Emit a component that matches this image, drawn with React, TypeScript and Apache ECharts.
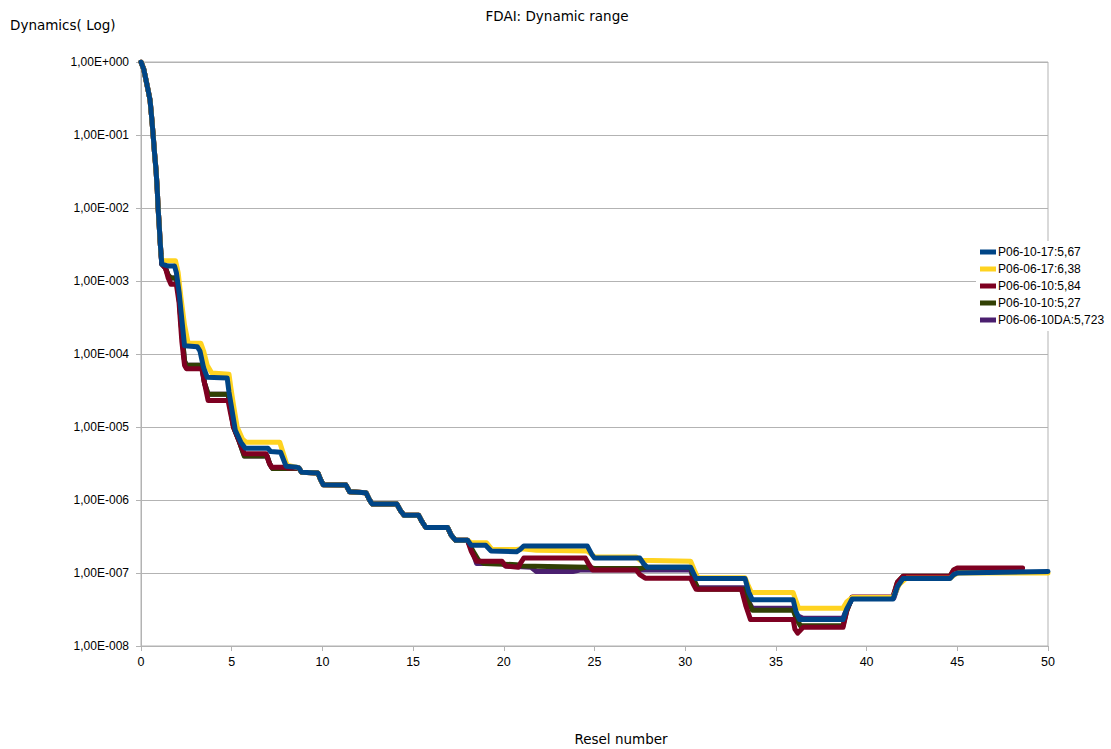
import React, { useEffect, useRef } from "react";
import * as echarts from "echarts";

const TITLE = "FDAI: Dynamic range";
const Y_NAME = "Dynamics( Log)";
const X_NAME = "Resel number";
const NAMES = ["P06-10-17:5,67", "P06-06-17:6,38", "P06-06-10:5,84", "P06-10-10:5,27", "P06-06-10DA:5,723"];
const COLORS = ["#004586", "#ffd320", "#7e0021", "#314004", "#4b1f6f"];
const X_TICKS = [0, 5, 10, 15, 20, 25, 30, 35, 40, 45, 50];

// initial decay shared by all series
const HEAD: number[][] = [
  [0, 1], [0.15, 0.8], [0.28, 0.56], [0.4, 0.4], [0.5, 0.3], [0.6, 0.16], [0.66, 0.107],
  [0.75, 0.055], [0.83, 0.033], [0.9, 0.017], [0.94, 0.0103], [1.0, 0.006], [1.05, 0.0036], [1.1, 0.0024],
];

// middle part (8.6 .. 18) shared by all series
const MID: number[][] = [
  [8.7, 2.75e-6], [8.85, 2.4e-6], [9.75, 2.35e-6], [9.9, 1.9e-6], [10.05, 1.62e-6], [11.3, 1.6e-6],
  [11.5, 1.3e-6], [12.4, 1.26e-6], [12.6, 1.0e-6], [12.75, 8.8e-7], [14.1, 8.8e-7], [14.3, 7.2e-7],
  [14.5, 6.2e-7], [15.3, 6.2e-7], [15.5, 5.0e-7], [15.7, 4.2e-7], [16.9, 4.2e-7], [17.1, 3.3e-7],
  [17.35, 2.8e-7], [18.0, 2.8e-7],
];

const BLUE_A: number[][] = [
  [1.15, 0.0017], [1.5, 0.0016], [1.85, 0.0016], [1.95, 0.0013], [2.1, 0.0007], [2.25, 0.0003],
  [2.4, 0.00013], [3.1, 0.000126], [3.25, 0.00011], [3.45, 0.000065], [3.65, 0.000048], [4.75, 0.000047],
  [4.85, 0.00003], [5.0, 0.000018], [5.2, 0.000009], [5.5, 6.2e-6], [5.75, 5.1e-6], [7.0, 5.1e-6],
  [7.15, 4.6e-6], [7.7, 4.5e-6], [7.85, 3.6e-6], [8.0, 2.9e-6], [8.6, 2.8e-6],
];
const BLUE_B: number[][] = [
  [18.2, 2.4e-7], [19.0, 2.4e-7], [19.3, 2.0e-7], [20.7, 1.95e-7], [20.9, 2.1e-7], [21.1, 2.35e-7],
  [24.6, 2.35e-7], [24.85, 1.8e-7], [25.0, 1.6e-7], [27.5, 1.6e-7], [27.7, 1.35e-7], [27.9, 1.2e-7],
  [30.3, 1.2e-7], [30.45, 1.0e-7], [30.6, 8.4e-8], [33.3, 8.4e-8], [33.5, 5.5e-8], [33.7, 4.3e-8],
  [35.95, 4.3e-8], [36.1, 3.0e-8], [36.3, 2.3e-8], [38.7, 2.3e-8], [38.9, 3.2e-8], [39.2, 4.4e-8],
  [41.45, 4.4e-8], [41.7, 6.5e-8], [42.0, 8.4e-8], [44.6, 8.4e-8], [44.8, 9.5e-8], [45.0, 1.0e-7],
  [50, 1.05e-7],
];

const YELLOW_A: number[][] = [
  [1.15, 0.0019], [1.9, 0.0019], [2.05, 0.0013], [2.2, 0.0006], [2.4, 0.00025], [2.6, 0.00014],
  [3.3, 0.00014], [3.45, 0.00011], [3.65, 0.00007], [3.9, 0.000055], [4.85, 0.000053], [4.95, 0.000035],
  [5.1, 0.00002], [5.3, 0.00001], [5.6, 6.8e-6], [5.8, 6.2e-6], [7.65, 6.2e-6], [7.85, 4.3e-6],
  [8.05, 3.0e-6], [8.6, 2.8e-6],
];
const YELLOW_B: number[][] = [
  [18.2, 2.6e-7], [19.05, 2.6e-7], [19.35, 2.1e-7], [20.7, 2.1e-7], [21.0, 2.15e-7], [21.8, 2.05e-7],
  [24.6, 2.0e-7], [24.85, 1.8e-7], [25.0, 1.66e-7], [27.3, 1.66e-7], [27.5, 1.5e-7], [30.3, 1.45e-7],
  [30.5, 1.1e-7], [30.7, 8.6e-8], [33.3, 8.6e-8], [33.5, 6.5e-8], [33.65, 5.4e-8], [35.95, 5.4e-8],
  [36.1, 4.2e-8], [36.25, 3.3e-8], [38.7, 3.3e-8], [38.9, 4.0e-8], [39.2, 4.6e-8], [41.45, 4.6e-8],
  [41.8, 7.0e-8], [42.2, 8.5e-8], [44.6, 8.5e-8], [44.9, 9.7e-8], [45.1, 1.0e-7], [50, 1.0e-7],
];

const RED_A: number[][] = [
  [1.15, 0.0017], [1.35, 0.0015], [1.5, 0.0011], [1.65, 0.0009], [1.95, 0.0009], [2.1, 0.0005],
  [2.25, 0.00015], [2.4, 0.00007], [2.5, 0.000063], [3.35, 0.000063], [3.5, 0.00004], [3.7, 0.000023],
  [4.8, 0.000023], [4.95, 0.000015], [5.1, 0.00001], [5.4, 6.5e-6], [5.7, 4.3e-6], [6.9, 4.3e-6],
  [7.05, 3.3e-6], [7.2, 2.8e-6], [7.9, 2.8e-6], [8.1, 2.75e-6], [8.6, 2.75e-6],
];
const RED_B: number[][] = [
  [18.2, 2.0e-7], [18.5, 1.45e-7], [19.9, 1.45e-7], [20.1, 1.25e-7], [20.8, 1.2e-7], [20.95, 1.4e-7],
  [21.1, 1.6e-7], [24.5, 1.6e-7], [24.7, 1.3e-7], [24.9, 1.1e-7], [27.3, 1.1e-7], [27.5, 9.5e-8],
  [27.8, 8.5e-8], [30.3, 8.5e-8], [30.45, 7.0e-8], [30.6, 6.0e-8], [33.1, 6.0e-8], [33.35, 3.5e-8],
  [33.6, 2.3e-8], [35.95, 2.3e-8], [36.05, 1.7e-8], [36.2, 1.5e-8], [36.5, 1.8e-8], [38.7, 1.8e-8],
  [38.9, 3.0e-8], [39.2, 4.7e-8], [41.45, 4.7e-8], [41.7, 7.5e-8], [42.0, 9.0e-8], [44.6, 9.0e-8],
  [44.8, 1.1e-7], [45.0, 1.17e-7], [48.6, 1.17e-7],
];

const GREEN_A: number[][] = [
  [1.15, 0.0017], [1.35, 0.0015], [1.5, 0.0012], [1.65, 0.0011], [1.95, 0.0011], [2.1, 0.0006],
  [2.25, 0.0002], [2.4, 0.00008], [2.5, 0.00007], [3.35, 0.00007], [3.5, 0.00004], [3.7, 0.000028],
  [4.8, 0.000028], [4.95, 0.000017], [5.1, 0.00001], [5.4, 6.5e-6], [5.7, 4.0e-6], [6.95, 4.0e-6],
  [7.1, 3.1e-6], [7.25, 2.7e-6], [7.9, 2.7e-6], [8.6, 2.72e-6],
];
const GREEN_B: number[][] = [
  [18.3, 2.0e-7], [18.6, 1.5e-7], [18.9, 1.35e-7], [20.7, 1.3e-7], [21.0, 1.25e-7], [24.6, 1.2e-7],
  [25.0, 1.15e-7], [27.5, 1.15e-7], [27.8, 1.2e-7], [30.3, 1.2e-7], [30.5, 8.0e-8], [30.7, 6.0e-8],
  [33.3, 6.0e-8], [33.5, 4.0e-8], [33.7, 3.1e-8], [35.95, 3.1e-8], [36.15, 2.3e-8], [36.35, 1.9e-8],
  [38.7, 1.9e-8], [38.9, 3.0e-8], [39.2, 4.6e-8], [41.45, 4.6e-8], [41.7, 7.5e-8], [42.0, 9.0e-8],
  [44.6, 9.0e-8], [44.8, 1.1e-7], [45.0, 1.12e-7], [48.0, 1.12e-7],
];

const PURPLE_A: number[][] = GREEN_A;
const PURPLE_B: number[][] = [
  [18.3, 1.9e-7], [18.5, 1.35e-7], [19.9, 1.35e-7], [20.1, 1.25e-7], [21.5, 1.2e-7], [21.8, 1.05e-7],
  [23.8, 1.05e-7], [24.2, 1.1e-7], [30.3, 1.1e-7], [30.5, 7.5e-8], [30.7, 6.3e-8], [33.3, 6.3e-8],
  [33.5, 4.0e-8], [33.7, 3.3e-8], [35.95, 3.3e-8], [36.2, 2.6e-8], [36.5, 2.4e-8], [38.7, 2.4e-8],
  [38.9, 3.2e-8], [39.2, 4.5e-8], [41.5, 4.5e-8], [41.8, 7.5e-8], [42.1, 8.8e-8], [44.6, 8.8e-8],
  [44.8, 1.05e-7], [45.0, 1.1e-7], [47.5, 1.1e-7],
];

const SERIES_DATA: number[][][] = [
  [...HEAD, ...BLUE_A, ...MID, ...BLUE_B],
  [...HEAD, ...YELLOW_A, ...MID, ...YELLOW_B],
  [...HEAD, ...RED_A, ...MID, ...RED_B],
  [...HEAD, ...GREEN_A, ...MID, ...GREEN_B],
  [...HEAD, ...PURPLE_A, ...MID, ...PURPLE_B],
];
const Z_ORDER = [6, 5, 4, 3, 2];

function fmtExp(v: number): string {
  const e = Math.round(Math.log10(v));
  const sign = e < 0 ? "-" : "+";
  return "1,00E" + sign + String(Math.abs(e)).padStart(3, "0");
}

export default function App() {
  const ref = useRef<HTMLDivElement>(null);
  useEffect(() => {
    if (!ref.current) return;
    const chart = echarts.init(ref.current, undefined, { renderer: "svg" });
    const axisFont = { fontFamily: "Liberation Sans, Arial, sans-serif", fontSize: 12, color: "#000" };
    chart.setOption({
      animation: false,
      backgroundColor: "#fff",
      graphic: [
        { type: "text", x: 557, y: 9, style: { text: TITLE, font: "13.5px 'DejaVu Sans'", fill: "#000", textAlign: "center" } },
        { type: "text", x: 10, y: 18, style: { text: Y_NAME, font: "13.5px 'DejaVu Sans'", fill: "#000" } },
        { type: "text", x: 621, y: 732, style: { text: X_NAME, font: "13.5px 'DejaVu Sans'", fill: "#000", textAlign: "center" } },
      ],
      grid: { left: 141, right: 63, top: 62, bottom: 103, show: true, borderColor: "#b3b3b3", borderWidth: 1 },
      legend: {
        orient: "vertical",
        left: 976,
        top: 241,
        data: NAMES,
        icon: "rect",
        itemWidth: 16,
        itemHeight: 5,
        itemGap: 3,
        padding: [4, 4, 4, 4],
        backgroundColor: "#fff",
        textStyle: { fontFamily: "Liberation Sans, Arial, sans-serif", fontSize: 12, lineHeight: 14, color: "#000", padding: [0, 0, 0, -3] },
      },
      xAxis: {
        type: "value",
        min: 0,
        max: 50,
        interval: 5,
        axisLine: { lineStyle: { color: "#b3b3b3" } },
        axisTick: { show: true, length: 5, lineStyle: { color: "#b3b3b3" } },
        splitLine: { show: false },
        axisLabel: { ...axisFont, fontSize: 12.5, margin: 9, formatter: (v: number) => (X_TICKS.includes(v) ? String(v) : "") },
      },
      yAxis: {
        type: "log",
        logBase: 10,
        min: 1e-8,
        max: 1,
        interval: 1,
        axisLine: { show: true, lineStyle: { color: "#b3b3b3" } },
        axisTick: { show: true, length: 5, lineStyle: { color: "#b3b3b3" } },
        splitLine: { show: true, lineStyle: { color: "#b3b3b3", width: 1 } },
        minorTick: { show: false },
        axisLabel: { ...axisFont, margin: 12, formatter: (v: number) => fmtExp(v) },
      },
      series: NAMES.map((name, i) => ({
        name,
        type: "line",
        data: SERIES_DATA[i],
        showSymbol: false,
        symbol: "none",
        z: Z_ORDER[i],
        color: COLORS[i],
        lineStyle: { width: 5, color: COLORS[i], join: "round", cap: "round" },
      })),
    });
    return () => chart.dispose();
  }, []);
  return <div ref={ref} style={{ width: 1111, height: 749, position: "absolute", left: 0, top: 0 }} />;
}
